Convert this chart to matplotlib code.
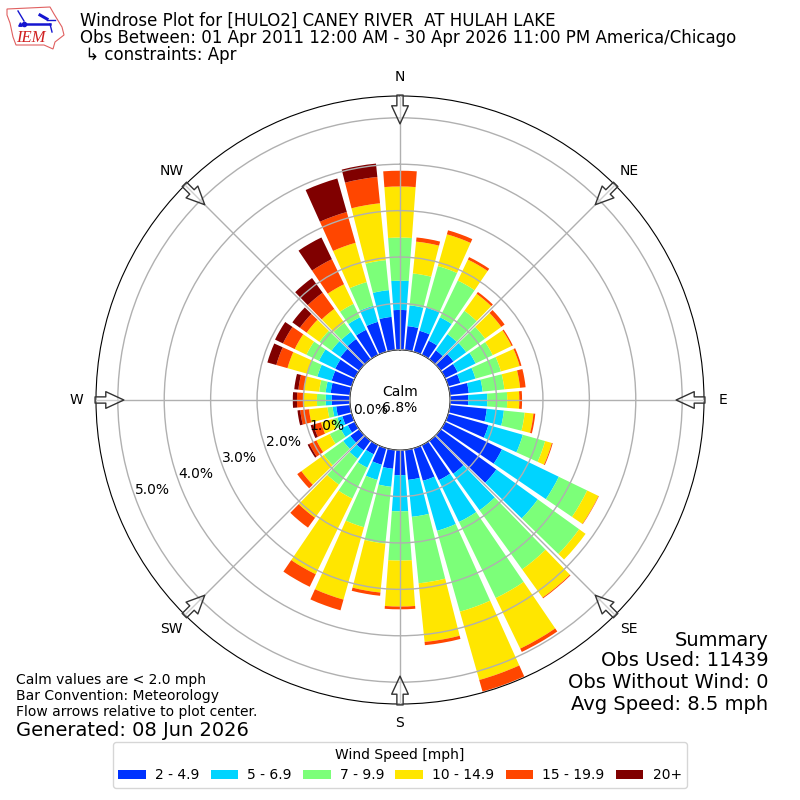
import numpy as np
import matplotlib
matplotlib.use("Agg")
import matplotlib.pyplot as plt
from matplotlib.patches import Polygon
from matplotlib.lines import Line2D

directions = list(range(0, 360, 10))
speed_labels = ["2 - 4.9", "5 - 6.9", "7 - 9.9", "10 - 14.9", "15 - 19.9", "20+"]
colors = ["#0032ff", "#00d4ff", "#7cff79", "#ffe600", "#ff4600", "#800000"]

blue = [.86,.52,.47,.34,.24,.34,.30,.27,.41,.39,.80,.90,1.36,1.48,.88,.84,.73,.65,
        .54,.41,.37,.22,.26,.24,.17,.21,.30,.39,.42,.45,.47,.50,.54,.60,.67,.72]
cyan = [.63,.45,.52,.56,.43,.34,.43,.34,.30,.41,.37,.77,1.36,1.10,.97,1.00,1.12,.80,
        .78,.39,.34,.32,.22,.19,.17,.11,.08,.13,.11,.32,.39,.24,.19,.30,.36,.58]
green = [.93,.69,.93,.88,.62,.50,.41,.57,.47,.43,.45,.50,.68,1.10,1.57,1.82,1.81,1.44,
         1.06,1.23,1.06,.74,.69,.51,.26,.11,.11,.19,.14,.23,.30,.32,.24,.32,.53,.65]
yellow = [1.10,.69,.71,.50,.45,.43,.45,.42,.34,.26,.19,.15,.27,.17,.75,1.21,1.53,1.27,
          .99,1.06,1.62,1.81,.88,.60,.32,.26,.40,.30,.33,.44,.28,.34,.37,.47,.88,1.23]
orange = [.34,.09,.09,.06,.05,.09,.03,.04,.12,.06,.04,.02,.01,0,.02,.08,.26,.07,
          .06,.07,.24,.30,.26,.11,.17,.17,.19,.13,.12,.25,.28,.18,.43,.60,.69,.57]
dark = [0,0,0,0,0,0,0,0,0,0,0,0,0,0,0,0,0,0,
        0,0,0,0,0,0,.04,.06,.06,.09,.09,.20,.19,.20,.39,.52,.75,.29]
series = [blue, cyan, green, yellow, orange, dark]

r_ticks = [0, 1, 2, 3, 4, 5]
r_tick_labels = ["0.0%", "1.0%", "2.0%", "3.0%", "4.0%", "5.0%"]
compass = ["N", "NE", "E", "SE", "S", "SW", "W", "NW"]
compass_deg = [0, 45, 90, 135, 180, 225, 270, 315]

fig = plt.figure(figsize=(8, 8), dpi=100)
ax = fig.add_axes([96/800, 96/800, 608/800, 608/800], projection="polar")
ax.set_theta_zero_location("N")
ax.set_theta_direction(-1)

theta = np.deg2rad(directions)
bottom = np.zeros(len(directions))
handles = []
for vals, col, lab in zip(series, colors, speed_labels):
    v = np.array(vals)
    bars = ax.bar(theta, v, width=np.deg2rad(8.4), bottom=bottom, color=col,
                  linewidth=0, label=lab, zorder=1.5)
    handles.append(bars)
    bottom = bottom + v

ax.set_rorigin(-1.08)
ax.set_ylim(0, 5.47)
ax.set_rticks(r_ticks)
ax.set_yticklabels(r_tick_labels)
ax.set_rlabel_position(250)
ax.set_xticks(np.deg2rad(compass_deg))
ax.set_xticklabels(compass)
ax.tick_params(axis="x", labelsize=10, pad=3.5)
ax.tick_params(axis="y", labelsize=10)
ax.grid(True, color="#b0b0b0", linewidth=1, zorder=2)
ax.set_axisbelow(False)

for d in compass_deg:
    ax.annotate("", xy=(np.deg2rad(d), 4.87), xytext=(np.deg2rad(d), 5.49),
                xycoords="data", textcoords="data", annotation_clip=False,
                arrowprops=dict(facecolor=(1, 1, 1, 0.4), edgecolor="#333333", width=4.5,
                                headwidth=12, headlength=13, linewidth=1, shrink=0),
                zorder=5)

fig.text(0.5, 0.5, "Calm\n6.8%", ha="center", va="center", fontsize=10,
         linespacing=1.15, zorder=6)

fig.text(80/800, 1-21/800, "Windrose Plot for [HULO2] CANEY RIVER  AT HULAH LAKE",
         fontsize=12, va="center")
fig.text(80/800, 1-38/800, "Obs Between: 01 Apr 2011 12:00 AM - 30 Apr 2026 11:00 PM America/Chicago",
         fontsize=12, va="center")
fig.text(80/800, 1-55/800, " \u21b3 constraints: Apr", fontsize=12, va="center")

for y, s in zip([640, 661, 682, 705],
                ["Summary", "Obs Used: 11439", "Obs Without Wind: 0", "Avg Speed: 8.5 mph"]):
    fig.text(768.5/800, 1-y/800, s, ha="right", va="center", fontsize=14)
for y, s in zip([680, 696, 712],
                ["Calm values are < 2.0 mph", "Bar Convention: Meteorology",
                 "Flow arrows relative to plot center."]):
    fig.text(16/800, 1-y/800, s, ha="left", va="center", fontsize=10)
fig.text(16/800, 1-730/800, "Generated: 08 Jun 2026", ha="left", va="center", fontsize=14)

fig.legend(handles=handles, labels=speed_labels, title="Wind Speed [mph]", ncol=6,
           loc="center", bbox_to_anchor=(0.5, 1-765/800), fontsize=10, title_fontsize=10,
           columnspacing=0.8, handletextpad=0.65)

# logo
lax = fig.add_axes([0, 1-70/800, 70/800, 70/800])
lax.set_xlim(0, 70)
lax.set_ylim(70, 0)
lax.axis("off")
outline = [(7, 9), (50, 7), (54, 14), (62, 27), (64, 35), (55, 42), (53, 49), (44, 45),
           (16, 45), (13, 37), (10, 23), (7, 15)]
lax.add_patch(Polygon(outline, closed=True, fill=False, edgecolor="#e06060", linewidth=0.8))
lax.add_line(Line2D([25, 50], [23.5, 23.5], color="#1515d0", linewidth=1.8))
lax.add_line(Line2D([18, 24], [11, 21], color="#1515d0", linewidth=1))
lax.add_line(Line2D([40, 47], [15, 19], color="#1515d0", linewidth=2.2))
lax.add_line(Line2D([47, 55], [20, 20], color="#1515d0", linewidth=1))
lax.add_line(Line2D([50, 52], [24, 32], color="#1515d0", linewidth=1))
lax.plot([24], [23.5], "o", color="#1515d0", markersize=3)
lax.plot([20], [24], "^", color="#1515d0", markersize=2.5)
lax.text(16, 38.5, "IEM", color="#d02020", fontsize=12, style="italic", family="Liberation Serif",
         va="center", ha="left")

fig.savefig("out.png", dpi=100)
